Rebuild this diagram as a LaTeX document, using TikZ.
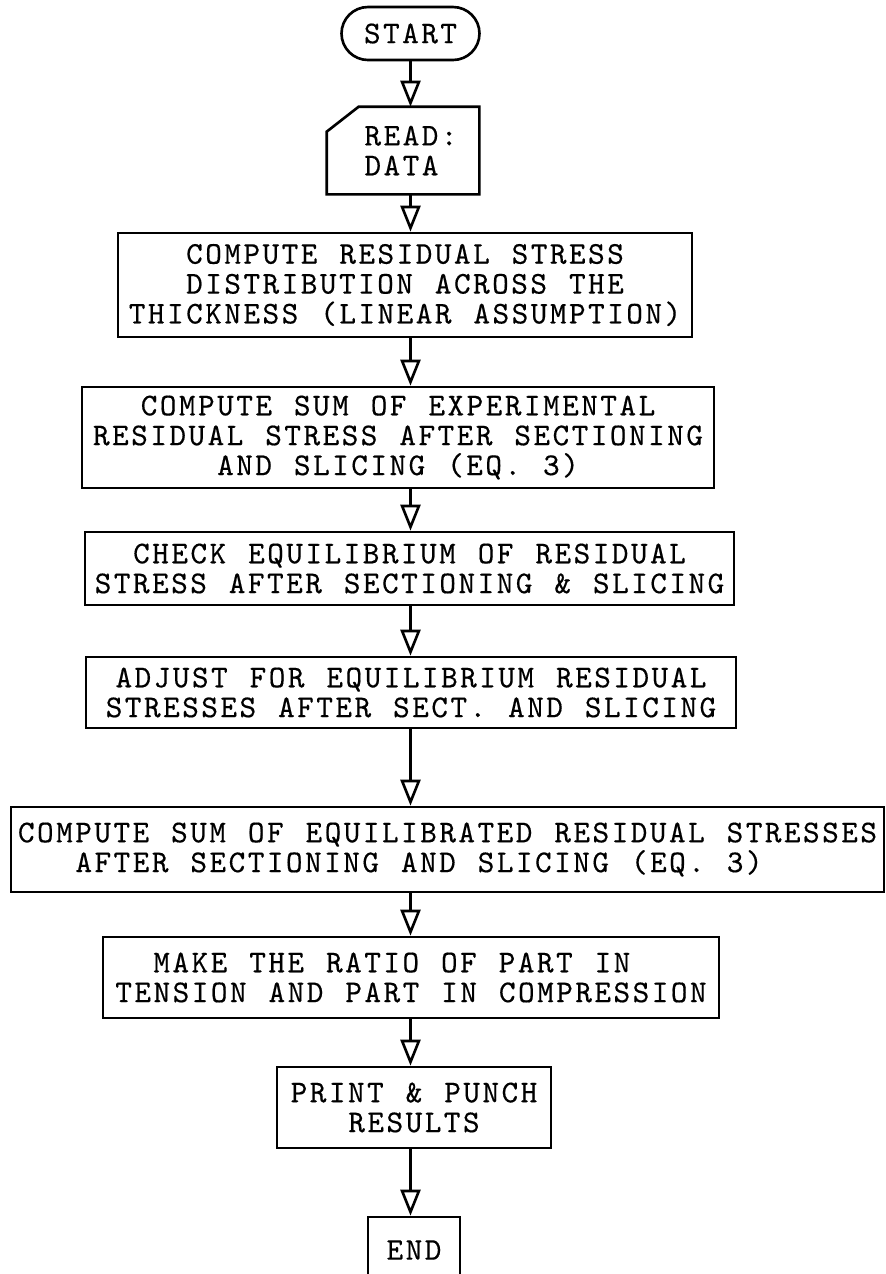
\documentclass[tikz,border=0pt]{standalone}
\usepackage{fontspec}
\usepackage{xcolor}
\usetikzlibrary{arrows.meta,shapes.misc}

\newfontfamily\flowtt{lmmono10-regular}[Extension=.otf, LetterSpace=7.9, WordSpace=1.15, FakeBold=0.4]
\newcommand{\flowfont}{\flowtt\fontsize{18}{17}\selectfont}

\begin{document}
\begin{tikzpicture}[
      line width=1.5pt,
      procbox/.style={
        draw,
        inner sep=2pt,
        align=center,
        font=\flowfont
      },
      terminal/.style={procbox, rounded rectangle},
      flow/.style={-{Triangle[open,length=0.52cm,width=0.4cm]}, line width=1.5pt}
    ]
      \path[use as bounding box] (0,0) rectangle (17.72,-25.48);

      % Start and input
      \node[terminal, minimum width=2.9cm, minimum height=1.06cm] (start) at (8.21,-0.67) {START};
      \node[procbox, draw=none, align=left, minimum width=3.0cm, minimum height=1.7cm] (rd) at (8.06,-3.01)
        {\hspace*{0.32cm}READ:\\\hspace*{0.32cm}DATA};
      \draw ([yshift=-0.5cm]rd.north west) -- ([xshift=0.64cm]rd.north west) -- (rd.north east)
        -- (rd.south east) -- (rd.south west) -- cycle;

      % Computation steps
      \node[procbox, minimum width=11.48cm, minimum height=2.08cm] (dist) at (8.1,-5.7)
        {COMPUTE RESIDUAL STRESS\\DISTRIBUTION ACROSS THE\\THICKNESS (LINEAR ASSUMPTION)};
      \node[procbox, minimum width=12.64cm, minimum height=2.02cm] (expsum) at (7.96,-8.75)
        {COMPUTE SUM OF EXPERIMENTAL\\RESIDUAL STRESS AFTER SECTIONING\\AND SLICING (EQ. 3)};
      \node[procbox, minimum width=12.98cm, minimum height=1.46cm] (check) at (8.19,-11.37)
        {CHECK EQUILIBRIUM OF RESIDUAL\\STRESS AFTER SECTIONING \& SLICING};
      \node[procbox, minimum width=13.0cm, minimum height=1.42cm] (adjust) at (8.22,-13.85)
        {ADJUST FOR EQUILIBRIUM RESIDUAL\\STRESSES AFTER SECT. AND SLICING};
      \node[procbox, align=left, minimum width=17.46cm, minimum height=1.7cm] (eqsum) at (8.95,-16.99)
        {COMPUTE SUM OF EQUILIBRATED RESIDUAL STRESSES\\\hspace*{1.15cm}AFTER SECTIONING AND SLICING (EQ. 3)};
      \node[procbox, align=left, minimum width=12.32cm, minimum height=1.62cm] (ratio) at (8.22,-19.55)
        {\hspace*{0.76cm}MAKE THE RATIO OF PART IN\\TENSION AND PART IN COMPRESSION};

      % Output and end
      \node[procbox, minimum width=5.48cm, minimum height=1.62cm] (print) at (8.28,-22.15)
        {PRINT \& PUNCH\\RESULTS};
      \node[procbox, minimum width=1.84cm, minimum height=1.32cm] (stop) at (8.28,-25.0) {END};

      % Connections
      \draw[flow] (start.south) -- (start.south |- rd.north);
      \draw[flow] (rd.south -| start) -- (dist.north -| start);
      \draw[flow] (dist.south -| start) -- (expsum.north -| start);
      \draw[flow] (expsum.south -| start) -- (check.north -| start);
      \draw[flow] (check.south -| start) -- (adjust.north -| start);
      \draw[flow] (adjust.south -| start) -- (eqsum.north -| start);
      \draw[flow] (eqsum.south -| start) -- (ratio.north -| start);
      \draw[flow] (ratio.south -| start) -- (print.north -| start);
      \draw[flow] (print.south -| start) -- (stop.north -| start);
    \end{tikzpicture}
\end{document}
